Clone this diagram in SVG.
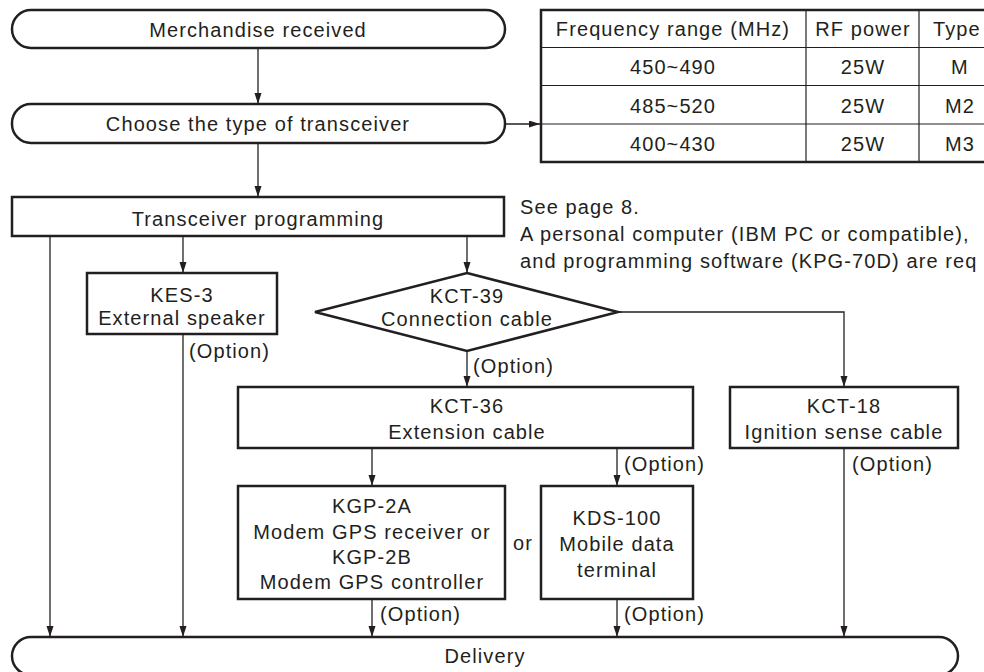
<svg xmlns="http://www.w3.org/2000/svg" width="984" height="672" viewBox="0 0 984 672">
<defs>
<marker id="ah" markerWidth="12" markerHeight="8" refX="11" refY="3.5" orient="auto" markerUnits="userSpaceOnUse"><path d="M0,0 L11,3.5 L0,7 z" fill="#231f20"/></marker>
<style>
text{font-family:"Liberation Sans",Arial,sans-serif;font-size:20px;fill:#231f20;letter-spacing:1.1px}
.c{text-anchor:middle}
.shape{fill:#fff;stroke:#231f20;stroke-width:2.5}
.thin{fill:none;stroke:#231f20;stroke-width:1.2}
.conn{fill:none;stroke:#231f20;stroke-width:1.3}
.arr{marker-end:url(#ah)}
</style>
</defs>
<rect width="984" height="672" fill="#fff"/>

<g id="merchandise">
<rect class="shape" x="12" y="10" width="493" height="38" rx="19"/>
<text class="c" x="258" y="37">Merchandise received</text>
</g>

<g id="choose">
<rect class="shape" x="12" y="104" width="493" height="39" rx="19"/>
<text class="c" x="258" y="131">Choose the type of transceiver</text>
</g>

<g id="table">
<rect class="shape" x="541" y="10" width="459" height="152"/>
<line class="thin" x1="541" y1="47.5" x2="1000" y2="47.5"/>
<line class="thin" x1="541" y1="85.5" x2="1000" y2="85.5"/>
<line class="thin" x1="541" y1="124" x2="1000" y2="124"/>
<line class="thin" x1="806" y1="10" x2="806" y2="162"/>
<line class="thin" x1="919" y1="10" x2="919" y2="162"/>
<text class="c" x="673" y="36">Frequency range (MHz)</text>
<text class="c" x="863" y="36">RF power</text>
<text x="933" y="36">Type</text>
<text class="c" x="673" y="74">450~490</text>
<text class="c" x="863" y="74">25W</text>
<text class="c" x="960" y="74">M</text>
<text class="c" x="673" y="113">485~520</text>
<text class="c" x="863" y="113">25W</text>
<text class="c" x="960" y="113">M2</text>
<text class="c" x="673" y="151">400~430</text>
<text class="c" x="863" y="151">25W</text>
<text class="c" x="960" y="151">M3</text>
</g>

<g id="programming">
<rect class="shape" x="12" y="197" width="492" height="39"/>
<text class="c" x="258" y="226">Transceiver programming</text>
</g>

<g id="note">
<text x="520" y="214">See page 8.</text>
<text x="520" y="241">A personal computer (IBM PC or compatible),</text>
<text x="520" y="268">and programming software (KPG-70D) are req</text>
</g>

<g id="kes3">
<rect class="shape" x="87" y="273" width="190" height="61"/>
<text class="c" x="182" y="302">KES-3</text>
<text class="c" x="182" y="325">External speaker</text>
</g>

<g id="kct39">
<polygon class="shape" points="467,273 618,312 467,351 315,312"/>
<text class="c" x="467" y="303">KCT-39</text>
<text class="c" x="467" y="326">Connection cable</text>
</g>

<g id="kct36">
<rect class="shape" x="238" y="387" width="455" height="61"/>
<text class="c" x="467" y="413">KCT-36</text>
<text class="c" x="467" y="439">Extension cable</text>
</g>

<g id="kct18">
<rect class="shape" x="730" y="387" width="228" height="61"/>
<text class="c" x="844" y="413">KCT-18</text>
<text class="c" x="844" y="439">Ignition sense cable</text>
</g>

<g id="kgp">
<rect class="shape" x="238" y="486" width="267" height="113"/>
<text class="c" x="372" y="513">KGP-2A</text>
<text class="c" x="372" y="539">Modem GPS receiver or</text>
<text class="c" x="372" y="564">KGP-2B</text>
<text class="c" x="372" y="589">Modem GPS controller</text>
</g>

<g id="or">
<text class="c" x="523" y="550">or</text>
</g>

<g id="kds100">
<rect class="shape" x="541" y="486" width="152" height="113"/>
<text class="c" x="617" y="525">KDS-100</text>
<text class="c" x="617" y="551">Mobile data</text>
<text class="c" x="617" y="577">terminal</text>
</g>

<g id="delivery">
<rect class="shape" x="12" y="637" width="946" height="38" rx="19"/>
<text class="c" x="485" y="663">Delivery</text>
</g>

<g id="connectors">
<line class="conn arr" x1="258" y1="48" x2="258" y2="104"/>
<line class="conn arr" x1="258" y1="143" x2="258" y2="197"/>
<line class="conn arr" x1="505" y1="124" x2="540" y2="124"/>
<line class="conn arr" x1="50" y1="236" x2="50" y2="637"/>
<line class="conn arr" x1="183" y1="236" x2="183" y2="273"/>
<line class="conn arr" x1="183" y1="334" x2="183" y2="637"/>
<line class="conn arr" x1="467" y1="236" x2="467" y2="273"/>
<line class="conn arr" x1="467" y1="351" x2="467" y2="387"/>
<path class="conn arr" d="M618,312 H844 V387"/>
<line class="conn arr" x1="372" y1="448" x2="372" y2="486"/>
<line class="conn arr" x1="617" y1="448" x2="617" y2="486"/>
<line class="conn arr" x1="372" y1="599" x2="372" y2="637"/>
<line class="conn arr" x1="617" y1="599" x2="617" y2="637"/>
<line class="conn arr" x1="844" y1="448" x2="844" y2="637"/>
<text x="189" y="358">(Option)</text>
<text x="473" y="373">(Option)</text>
<text x="624" y="471">(Option)</text>
<text x="852" y="471">(Option)</text>
<text x="380" y="621">(Option)</text>
<text x="624" y="621">(Option)</text>
</g>
</svg>
